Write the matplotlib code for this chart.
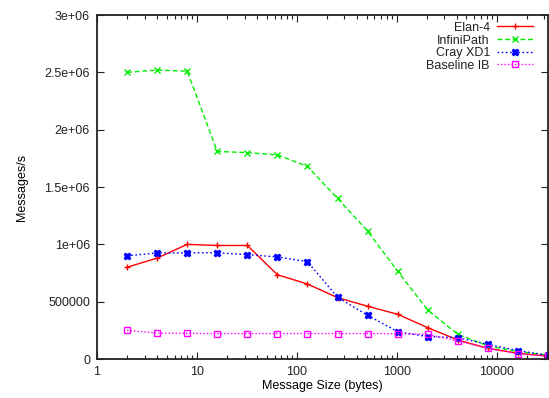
import numpy as np, matplotlib
matplotlib.use('Agg')
import matplotlib.pyplot as plt
from matplotlib.lines import Line2D
from matplotlib.ticker import FixedLocator, NullFormatter

plt.rcParams['font.family'] = ['Liberation Sans', 'DejaVu Sans']

sizes = [2, 4, 8, 16, 32, 64, 128, 256, 512, 1024, 2048, 4096, 8192, 16384, 32768]
elan4 = [0.80e6, 0.88e6, 1.00e6, 0.99e6, 0.99e6, 0.735e6, 0.654e6, 0.535e6,
         0.46e6, 0.39e6, 0.273e6, 0.166e6, 0.093e6, 0.05e6, 0.025e6]
infinipath = [2.50e6, 2.52e6, 2.51e6, 1.81e6, 1.80e6, 1.78e6, 1.68e6, 1.40e6,
              1.116e6, 0.765e6, 0.427e6, 0.215e6, 0.115e6, 0.064e6, 0.035e6]
crayxd1 = [0.90e6, 0.925e6, 0.925e6, 0.927e6, 0.91e6, 0.89e6, 0.849e6, 0.538e6,
           0.381e6, 0.238e6, 0.195e6, 0.186e6, 0.128e6, 0.073e6, 0.032e6]
baseline = [0.25e6, 0.225e6, 0.224e6, 0.222e6, 0.222e6, 0.222e6, 0.222e6, 0.222e6,
            0.222e6, 0.221e6, 0.215e6, 0.157e6, 0.093e6, 0.046e6, 0.025e6]

series = [
    ('Elan-4', elan4, '#ff0000', '-', '+', 'none'),
    ('InfiniPath', infinipath, '#00ee00', (0, (3.5, 2)), 'x', 'none'),
    ('Cray XD1', crayxd1, '#0000ff', (0, (1.2, 1.8)), 'X', '#0000ff'),
    ('Baseline IB', baseline, '#ff00ff', (0, (1, 1.5)), 's', 'none'),
]

yticks = [0, 500000, 1e6, 1.5e6, 2e6, 2.5e6, 3e6]
ylabels = ['0', '500000', '1e+06', '1.5e+06', '2e+06', '2.5e+06', '3e+06']
xticks = [1, 10, 100, 1000, 10000]
xlabels = ['1', '10', '100', '1000', '10000']

fig = plt.figure(figsize=(5.49, 3.98), dpi=100)
ax = fig.add_axes([97/549, 1-359/398, 451/549, 344/398])

for name, vals, col, ls, mk, mfc in series:
    ax.plot(sizes, vals, color=col, linestyle=ls, lw=1, marker=mk,
            markersize=5 if mk != 'X' else 4.5, markerfacecolor=mfc,
            markeredgecolor=col, markeredgewidth=1)

ax.set_xscale('log')
ax.set_xlim(1, 32768)
ax.set_ylim(0, 3e6)
ax.xaxis.set_major_locator(FixedLocator(xticks))
ax.set_xticklabels(xlabels)
minors = [m * 10**e for e in range(0, 5) for m in range(2, 10) if m * 10**e < 32768]
ax.xaxis.set_minor_locator(FixedLocator(minors))
ax.xaxis.set_minor_formatter(NullFormatter())
ax.set_yticks(yticks)
ax.set_yticklabels(ylabels)
ax.tick_params(which='both', direction='in', top=True, right=True, labelsize=9, pad=5, colors='#222222')
ax.tick_params(which='major', length=5, width=0.8)
ax.tick_params(which='minor', length=3, width=0.8)
for s in ax.spines.values():
    s.set_linewidth(1.3); s.set_color('#222222')

ax.set_xlabel('Message Size (bytes)', fontsize=9)
ax.xaxis.set_label_coords(0.5, -0.06)
ax.set_ylabel('Messages/s', fontsize=9, labelpad=12)

# gnuplot-style key: text right-aligned, sample to the right
rows_y = [26.3, 39.3, 51.5, 64.3]
for (name, vals, col, ls, mk, mfc), py in zip(series, rows_y):
    yf = 1 - py/398
    fig.text(490/549, yf - 1.5/398, name, ha='right', va='center', fontsize=9, color='#222222')
    fig.add_artist(Line2D([497/549, 533/549], [yf, yf], color=col, linestyle=ls, lw=1))
    fig.add_artist(Line2D([515/549], [yf], marker=mk, color=col, linestyle='none',
                          markersize=5 if mk != 'X' else 4.5, markerfacecolor=mfc,
                          markeredgecolor=col, markeredgewidth=1))

fig.savefig('out.png', dpi=100)
